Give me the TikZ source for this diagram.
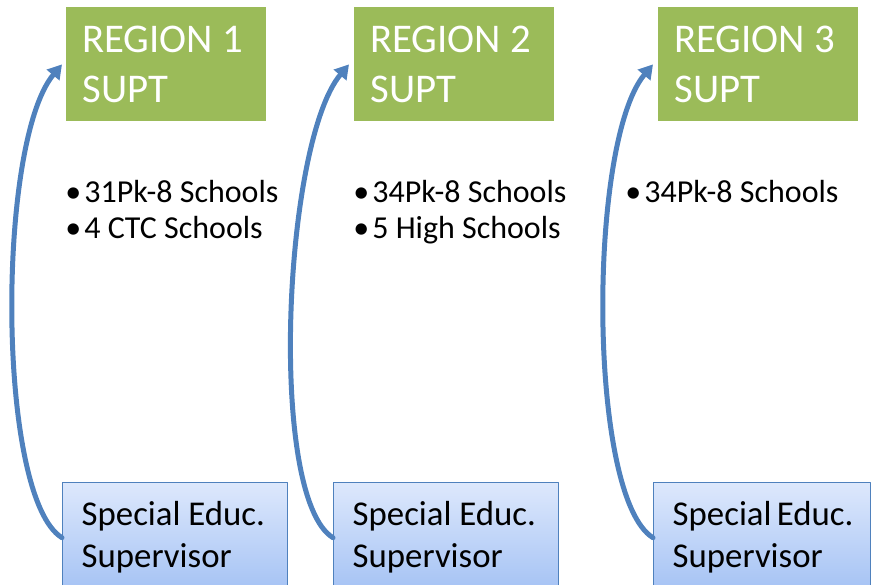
\documentclass[tikz,border=0pt]{standalone}
\usepackage{fontspec}
\setmainfont{Carlito}
\usetikzlibrary{arrows.meta,positioning}
\definecolor{regiongreen}{RGB}{155,187,89}
\definecolor{officeblue}{RGB}{79,129,189}
\definecolor{paleblue}{RGB}{221,232,252}
\definecolor{skyblue}{RGB}{164,194,244}

\tikzset{
    regionbox/.style={fill=regiongreen, text=white, anchor=north west,
        minimum height=2.28cm, text width=3.36cm, inner xsep=0.32cm, align=flush left,
        font=\fontsize{23.2pt}{28.45pt}\selectfont},
    supbox/.style={draw=officeblue, line width=0.8pt, top color=paleblue, bottom color=skyblue,
        anchor=north west, minimum height=2.2cm, text width=3.74cm, inner xsep=0.38cm, align=flush left,
        font=\fontsize{19.8pt}{23.9pt}\selectfont},
    bulletline/.style={anchor=base west, inner sep=0pt, font=\fontsize{18.2pt}{20.5pt}\selectfont},
    supar/.style={officeblue, line width=0.1cm, -{Triangle[length=0.28cm,width=0.32cm]}}
}
\newcommand{\bul}{\makebox[0.38cm][l]{\textbullet}}

\begin{document}
\begin{tikzpicture}[line cap=round, line join=round]
    \useasboundingbox (0,0) rectangle (17.42,11.68);

    % region superintendents
    \node[regionbox] (reg1) at (1.32,11.54) {REGION 1\\SUPT};
    \node[regionbox] (reg2) at (7.08,11.54) {REGION 2\\SUPT};
    \node[regionbox] (reg3) at (13.16,11.54) {REGION 3\\SUPT};

    % schools
    \node[bulletline] (b11) at (1.30,7.64) {\bul 31Pk-8 Schools};
    \node[bulletline] (b12) at (1.30,6.91) {\bul 4 CTC Schools};
    \node[bulletline] (b21) at (7.06,7.64) {\bul 34Pk-8 Schools};
    \node[bulletline] (b22) at (7.06,6.91) {\bul 5 High Schools};
    \node[bulletline] (b31) at (12.50,7.64) {\bul 34Pk-8 Schools};

    % special education supervisors
    \node[supbox] (sup1) at (1.24,2.04) {Special~Educ.\\Supervisor};
    \node[supbox] (sup2) at (6.66,2.04) {Special~Educ.\\Supervisor};
    \node[supbox, text width=3.58cm] (sup3) at (13.06,2.04) {Special~Educ.\\Supervisor};

    \draw[supar] (sup1.west) .. controls +(-1.31,0.8) and +(-1.31,-1.56) .. ([xshift=-0.08cm]reg1.west);
    \draw[supar] (sup2.west) .. controls +(-1.31,0.8) and +(-1.31,-1.56) .. ([xshift=-0.10cm]reg2.west);
    \draw[supar] (sup3.west) .. controls +(-1.31,0.8) and +(-1.31,-1.56) .. ([xshift=-0.10cm]reg3.west);
\end{tikzpicture}
\end{document}
